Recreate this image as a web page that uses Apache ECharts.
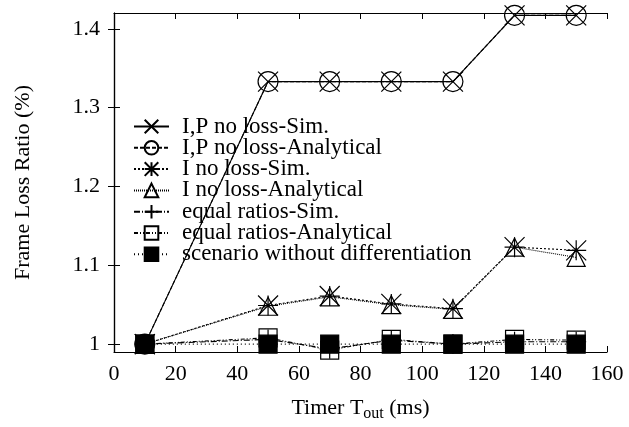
<!DOCTYPE html>
<html>
<head>
<meta charset="utf-8">
<script src="https://cdn.jsdelivr.net/npm/echarts@6/dist/echarts.min.js"></script>
<style>
  html, body { margin: 0; padding: 0; background: #fff; }
  #chart { width: 629px; height: 427px; }
</style>
</head>
<body>
<div id="chart"></div>
<script>
// timer values (ms)
var tout = [10, 50, 70, 90, 110, 130, 150];

// frame loss ratio (%) per scenario
var ipSim = [1.0, 1.333, 1.333, 1.333, 1.333, 1.417, 1.417];
var ipAna = [1.0, 1.333, 1.333, 1.333, 1.333, 1.417, 1.417];
var iSim = [1.0, 1.049, 1.061, 1.051, 1.045, 1.123, 1.119];
var iAna = [1.0, 1.048, 1.060, 1.050, 1.044, 1.123, 1.110];
var eqSim = [1.0, 1.006, 0.994, 1.005, 1.0, 1.003, 1.003];
var eqAna = [1.0, 1.008, 0.9925, 1.006, 1.0, 1.006, 1.005];
var noDiff = [1.0, 1.0, 1.0, 1.0, 1.0, 1.0, 1.0];

var names = [
  'I,P no loss-Sim.',
  'I,P no loss-Analytical',
  'I no loss-Sim.',
  'I no loss-Analytical',
  'equal ratios-Sim.',
  'equal ratios-Analytical',
  'scenario without differentiation'
];
var yTicks = [1, 1.1, 1.2, 1.3, 1.4];
var xTicks = [0, 20, 40, 60, 80, 100, 120, 140, 160];

var font = 'Liberation Serif';

function pairs(ys) {
  return tout.map(function (x, i) { return [x, ys[i]]; });
}

function mk(name, ys, symbol, size, dash, fill) {
  return {
    name: name,
    type: 'line',
    data: pairs(ys),
    symbol: symbol,
    symbolSize: size,
    clip: false,
    lineStyle: { color: '#000', width: 1.1, type: dash },
    itemStyle: { color: fill, borderColor: '#000', borderWidth: 1.2 }
  };
}

var chart = echarts.init(document.getElementById('chart'));
chart.setOption({
  animation: false,
  backgroundColor: '#fff',
  textStyle: { fontFamily: font, color: '#000' },
  grid: { left: 114, right: 22, top: 13, bottom: 71 },
  legend: {
    orient: 'vertical',
    left: 128,
    top: 110,
    itemWidth: 35,
    itemHeight: 17,
    itemGap: -1.7,
    textStyle: { fontFamily: font, fontSize: 23, color: '#000', padding: [0, 0, 0, 8] },
    data: names
  },
  xAxis: [{
    type: 'value', min: 0, max: 160, interval: 20,
    name: 'Timer T{sub|out} (ms)',
    nameLocation: 'middle', nameGap: 42,
    nameTextStyle: {
      fontFamily: font, fontSize: 22, color: '#000',
      rich: { sub: { fontFamily: font, fontSize: 16, color: '#000', padding: [12, 0, 0, 0] } }
    },
    axisLine: { lineStyle: { color: '#000', width: 1.2 } },
    axisTick: { inside: true, length: 6, lineStyle: { color: '#000' } },
    axisLabel: { fontFamily: font, fontSize: 22, color: '#000', margin: 11, customValues: xTicks },
    splitLine: { show: false }
  }, {
    type: 'value', min: 0, max: 160, interval: 20, position: 'top',
    axisLine: { lineStyle: { color: '#000', width: 1.2 } },
    axisTick: { inside: true, length: 6, lineStyle: { color: '#000' } },
    axisLabel: { show: false },
    splitLine: { show: false }
  }],
  yAxis: [{
    type: 'value', min: 0.99, max: 1.42,
    name: 'Frame Loss Ratio (%)',
    nameLocation: 'middle', nameGap: 80,
    nameTextStyle: { fontFamily: font, fontSize: 22, color: '#000' },
    axisLine: { show: true, lineStyle: { color: '#000', width: 1.2 } },
    axisTick: { inside: true, length: 6, customValues: yTicks, lineStyle: { color: '#000' } },
    axisLabel: {
      fontFamily: font, fontSize: 22, color: '#000', margin: 14,
      customValues: yTicks,
      formatter: function (v) { return String(Math.round(v * 10) / 10); }
    },
    splitLine: { show: false }
  }, {
    type: 'value', min: 0.99, max: 1.42, position: 'right',
    axisLine: { show: true, lineStyle: { color: '#000', width: 1.2 } },
    axisTick: { inside: true, length: 6, customValues: yTicks, lineStyle: { color: '#000' } },
    axisLabel: { show: false },
    splitLine: { show: false }
  }],
  series: [
    mk(names[0], ipSim, 'path://M0,0L10,10M10,0L0,10', 20, 'solid', 'rgba(0,0,0,0)'),
    mk(names[1], ipAna, 'circle', 20, [4, 2], 'rgba(0,0,0,0)'),
    mk(names[2], iSim, 'path://M0,0L10,10M10,0L0,10M5,0L5,10M0,5L10,5', 20, [2, 2], 'rgba(0,0,0,0)'),
    mk(names[3], iAna, 'triangle', 18, [1, 1], 'rgba(0,0,0,0)'),
    mk(names[4], eqSim, 'path://M5,0L5,10M0,5L10,5', 20, [6, 2, 1, 2], 'rgba(0,0,0,0)'),
    mk(names[5], eqAna, 'rect', 18, [4, 2, 1, 2, 1, 2], 'rgba(0,0,0,0)'),
    mk(names[6], noDiff, 'rect', 18, [1, 3], '#000')
  ]
});
</script>
</body>
</html>
